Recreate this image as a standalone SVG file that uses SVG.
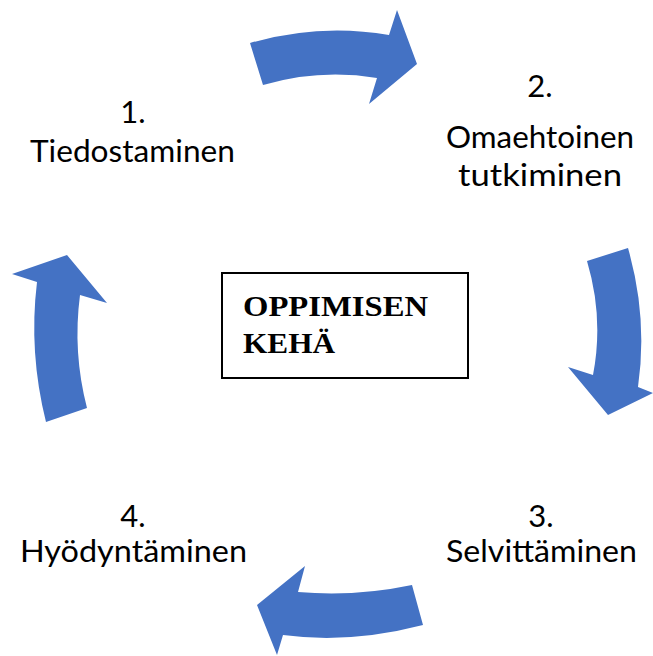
<svg xmlns="http://www.w3.org/2000/svg" width="653" height="656" viewBox="0 0 653 656">
<style>
.lbl{font-family:Lato,"Open Sans","Noto Sans",sans-serif;font-size:31px;fill:#000;text-anchor:middle}
.arr{fill:#4472C4;stroke:none}
.ttl{font-family:"Liberation Serif","DejaVu Serif",serif;font-weight:bold;font-size:29px;fill:#000}
</style>
<rect width="653" height="656" fill="#fff"/>
<g id="connectors">
<path class="arr" d="M250,43 Q320,23 389,35 L397,10 L417,64 L369,104 L377,78 Q320,68.5 263,85 Z"/>
<path class="arr" d="M587,261 L628,248 Q648,318 638,387 L653,393 L608,415 L568,367 L593,375 Q604,318 587,261 Z"/>
<path class="arr" d="M412,585 Q355,597 298,592 L305,566 L257,605 L277,655 L283,635 Q350,644 423,625 Z"/>
<path class="arr" d="M46,422 Q28.5,352 37,282 L12,274 L67,255 L107,303 L80,295 Q72.5,352 87,408 Z"/>
</g>
<g id="center">
<rect x="222" y="273" width="246" height="105" fill="#fff" stroke="#000" stroke-width="2"/>
<text class="ttl" x="243" y="316" textLength="185" lengthAdjust="spacingAndGlyphs">OPPIMISEN</text>
<text class="ttl" x="243" y="353" textLength="92" lengthAdjust="spacingAndGlyphs">KEHÄ</text>
</g>
<g id="node1">
<text class="lbl" x="133" y="123">1.</text>
<text class="lbl" x="132.5" y="162" textLength="205" lengthAdjust="spacingAndGlyphs">Tiedostaminen</text>
</g>
<g id="node2">
<text class="lbl" x="540" y="97">2.</text>
<text class="lbl" x="540" y="148" textLength="188" lengthAdjust="spacingAndGlyphs">Omaehtoinen</text>
<text class="lbl" x="540" y="186" textLength="164" lengthAdjust="spacingAndGlyphs">tutkiminen</text>
</g>
<g id="node3">
<text class="lbl" x="541" y="527">3.</text>
<text class="lbl" x="541.5" y="562" textLength="191" lengthAdjust="spacingAndGlyphs">Selvittäminen</text>
</g>
<g id="node4">
<text class="lbl" x="133" y="527">4.</text>
<text class="lbl" x="133.5" y="562" textLength="227" lengthAdjust="spacingAndGlyphs">Hyödyntäminen</text>
</g>
</svg>
